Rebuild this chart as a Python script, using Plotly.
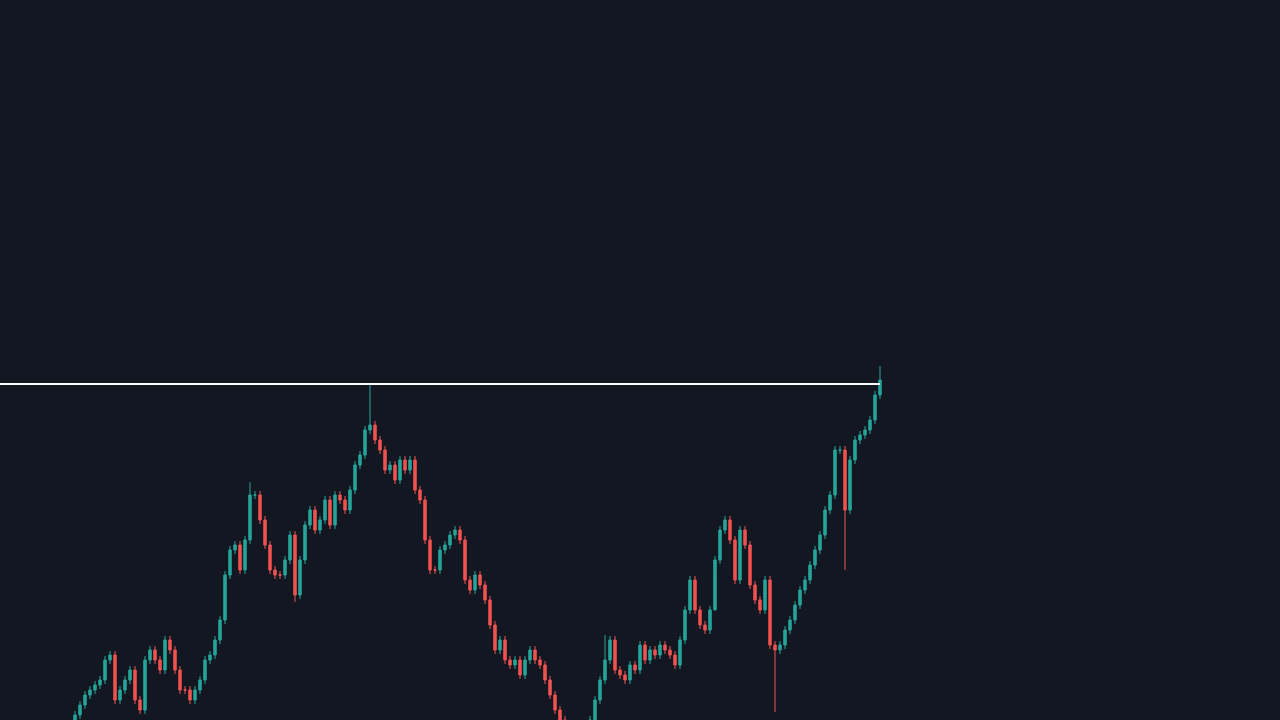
import plotly.graph_objects as go

# closing prices, one per candle
closes = [5, 15, 25, 30, 35, 40, 60, 65, 20, 30, 40, 50, 20, 10, 60, 70, 60, 50, 80, 70,
          50, 30, 30, 20, 30, 40, 60, 65, 80, 100, 145, 170, 175, 150, 180, 225, 225, 200, 175, 150,
          145, 145, 160, 185, 125, 160, 195, 210, 190, 200, 220, 195, 225, 220, 210, 230, 255, 265, 290, 295,
          280, 270, 250, 255, 240, 260, 250, 260, 230, 220, 180, 150, 150, 170, 175, 185, 190, 180, 140, 130,
          145, 135, 120, 95, 70, 80, 60, 55, 60, 45, 60, 70, 60, 55, 40, 25, 10, 0, -10, -20,
          -25, -20, -15, 0, 20, 40, 60, 80, 50, 45, 40, 55, 50, 75, 60, 70, 65, 75, 70, 65,
          55, 80, 110, 140, 110, 95, 90, 110, 160, 190, 200, 180, 140, 190, 175, 135, 120, 110, 140, 75,
          70, 75, 90, 100, 115, 130, 140, 155, 170, 185, 210, 225, 270, 270, 210, 260, 280, 285, 290, 300,
          325, 340]
first_open = 0
# notable long wicks (candle index -> extreme price)
high_spikes = {59: 335, 161: 354, 35: 238, 106: 85}
low_spikes = {140: 8, 154: 150, 44: 118, 128: 148}
level = 336

opens = [first_open] + closes[:-1]
highs = [high_spikes.get(i, max(o, c) + 4) for i, (o, c) in enumerate(zip(opens, closes))]
lows = [low_spikes.get(i, min(o, c) - 4) for i, (o, c) in enumerate(zip(opens, closes))]
idx = list(range(len(closes)))

fig = go.Figure(go.Candlestick(
    x=idx, open=opens, high=highs, low=lows, close=closes,
    increasing=dict(line=dict(color='#26a69a', width=1), fillcolor='#26a69a'),
    decreasing=dict(line=dict(color='#ef5350', width=1), fillcolor='#ef5350'),
    whiskerwidth=0, showlegend=False, hoverinfo='skip'))

fig.add_shape(type='line', x0=-15, x1=idx[-1], y0=level, y1=level,
              line=dict(color='white', width=2))

fig.update_layout(
    width=1280, height=720, margin=dict(l=0, r=0, t=0, b=0),
    paper_bgcolor='#131722', plot_bgcolor='#131722',
    xaxis=dict(range=[-15, 241], visible=False, rangeslider=dict(visible=False)),
    yaxis=dict(range=[0, 720], visible=False))
fig.write_html("out.html", config={'displayModeBar': False},
               post_script="document.body.style.margin='0';document.body.style.background='#131722';")
